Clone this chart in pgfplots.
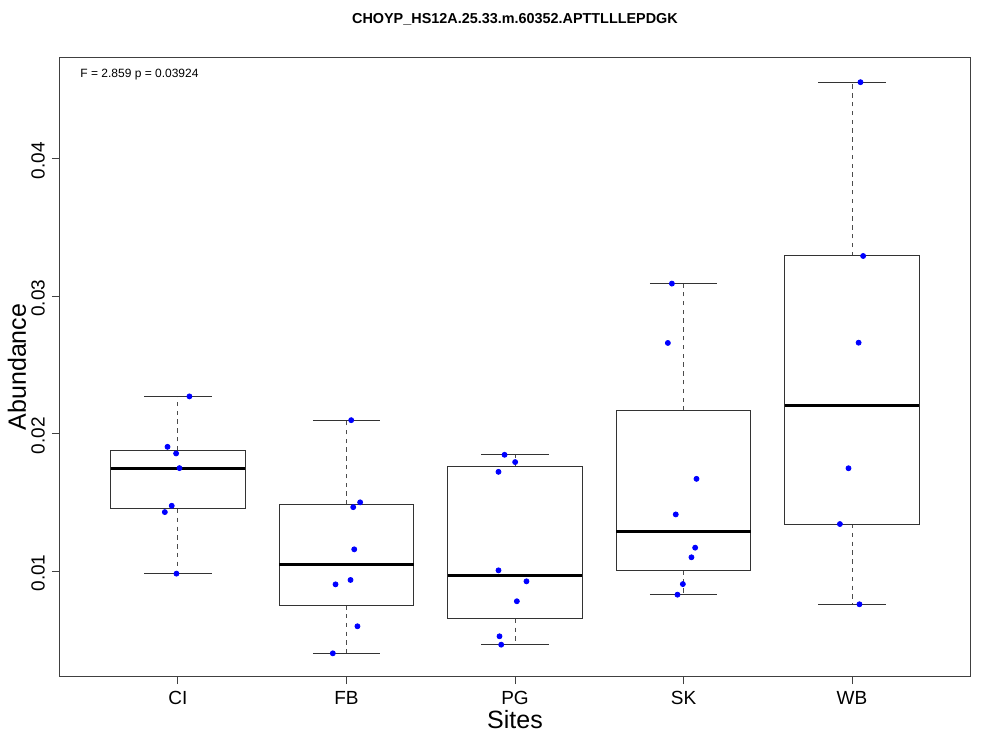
\documentclass[border=0pt]{standalone}
\usepackage{pgfplots}
\pgfplotsset{compat=1.18}
\usepgfplotslibrary{statistics}
\usepackage{fontspec}
\setmainfont{Liberation Sans}
\begin{document}
\begin{tikzpicture}
\useasboundingbox (-30pt,-37pt) rectangle (470pt,338pt);
\begin{axis}[
  scale only axis,
  width=455pt, height=309pt,
  xmin=0.3, xmax=5.7,
  ymin=0.00236, ymax=0.04734,
  scaled y ticks=false,
  xtick={1,2,3,4,5},
  xticklabels={CI,FB,PG,SK,WB},
  ytick={0.01,0.02,0.03,0.04},
  yticklabels={0.01,0.02,0.03,0.04},
  /pgf/number format/assume math mode=true,
  tick pos=left,
  tick align=outside,
  major tick length=4pt,
  axis line style={black!75, line width=0.5pt},
  tick style={black!75, line width=0.5pt},
  ticklabel style={font=\fontsize{9.5}{11}\selectfont},
  yticklabel style={rotate=90, anchor=south, xshift=-1pt},
  xticklabel style={yshift=0pt},
  xlabel={Sites},
  ylabel={Abundance},
  label style={font=\fontsize{12.5}{14}\selectfont},
  xlabel style={at={(axis description cs:0.5,-0.0712)}, anchor=center},
  ylabel style={at={(axis description cs:-0.0473,0.5)}, anchor=center},
  title={CHOYP\_HS12A.25.33.m.60352.APTTLLLEPDGK},
  title style={font=\fontsize{7.2}{8}\selectfont\bfseries, at={(axis description cs:0.5,1.0437)}, anchor=center},
  boxplot/draw direction=y,
  boxplot/box extend=0.8,
  boxplot/whisker extend=0.4,
  boxplot/every box/.style={draw=black!80, line width=0.5pt},
  boxplot/every median/.style={draw=black, line width=1.5pt},
  boxplot/draw/whisker/.code 2 args={%
    \draw[black!70, line width=0.5pt, dash pattern=on 2.2pt off 2.2pt] (boxplot cs:#1) -- (boxplot cs:#2);
    \draw[black!80, line width=0.5pt] (boxplot whisker cs:#2,0) -- (boxplot whisker cs:#2,1);
  },
]
\addplot[boxplot prepared={median=0.01749, lower quartile=0.01452, upper quartile=0.01880, lower whisker=0.00981, upper whisker=0.02271, draw position=1}] coordinates {};
\addplot[boxplot prepared={median=0.01046, lower quartile=0.00751, upper quartile=0.01483, lower whisker=0.00401, upper whisker=0.02098, draw position=2}] coordinates {};
\addplot[boxplot prepared={median=0.00965, lower quartile=0.00653, upper quartile=0.01758, lower whisker=0.00464, upper whisker=0.01846, draw position=3}] coordinates {};
\addplot[boxplot prepared={median=0.01291, lower quartile=0.01003, upper quartile=0.02166, lower whisker=0.00828, upper whisker=0.03092, draw position=4}] coordinates {};
\addplot[boxplot prepared={median=0.02205, lower quartile=0.01342, upper quartile=0.03293, lower whisker=0.00758, upper whisker=0.04558, draw position=5}] coordinates {};

\addplot[only marks, mark=*, mark size=1.25pt, color=blue, fill=blue] coordinates {
(1.068,0.02271) (0.938,0.01904) (0.989,0.01856) (1.009,0.01749) (0.963,0.01475) (0.922,0.01429) (0.991,0.00981)
(2.028,0.02098) (2.081,0.01500) (2.040,0.01465) (2.046,0.01158) (2.024,0.00935) (1.935,0.00903) (2.065,0.00598) (1.919,0.00401)
(2.938,0.01846) (3.001,0.01793) (2.902,0.01722) (2.902,0.01005) (3.068,0.00925) (3.011,0.00780) (2.908,0.00525) (2.918,0.00464)
(3.931,0.03092) (3.907,0.02660) (4.077,0.01671) (3.954,0.01412) (4.069,0.01170) (4.047,0.01100) (3.996,0.00905) (3.964,0.00828)
(5.050,0.04558) (5.066,0.03293) (5.039,0.02662) (4.979,0.01748) (4.928,0.01342) (5.044,0.00758)
};

\node[anchor=west, inner sep=0pt, font=\fontsize{6}{7}\selectfont] at (axis description cs:0.022,0.974) {F = 2.859 p = 0.03924};
\end{axis}
\end{tikzpicture}
\end{document}
